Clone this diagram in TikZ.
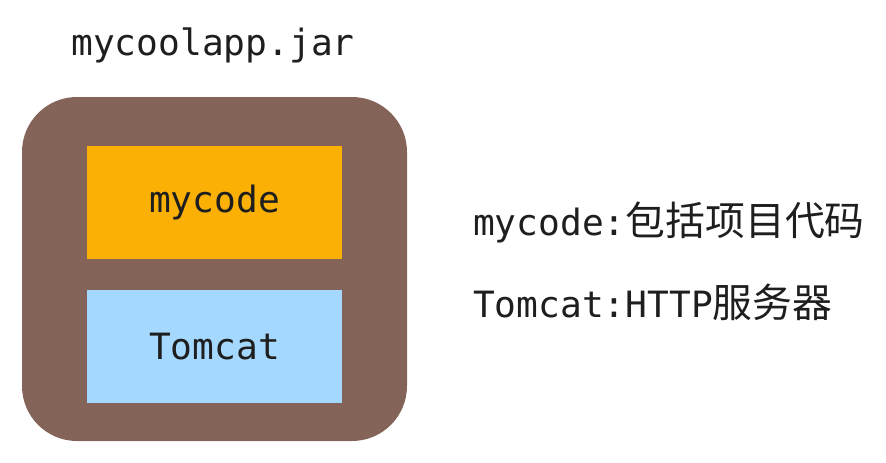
\documentclass[tikz,border=0pt]{standalone}
\usepackage{fontspec}
\setmonofont{DejaVu Sans Mono}
\newfontfamily\cjk[Scale=1.1]{Noto Sans CJK SC}
\usetikzlibrary{positioning}
\definecolor{jarbrown}{HTML}{846358}
\definecolor{codeorange}{HTML}{FAB005}
\definecolor{catblue}{HTML}{A5D8FF}
\definecolor{ink}{HTML}{1E1E1E}
\tikzset{%
   txt/.style={inner sep=0pt, text=ink, font=\ttfamily\fontsize{36.2}{40}\selectfont},
   part/.style={txt, minimum width=255pt, minimum height=113pt},
}

\begin{document}
\begin{tikzpicture}[x=1pt, y=-1pt]
         \useasboundingbox (0,0) rectangle (886,463);
         \node[fill=jarbrown, rounded corners=55pt, minimum width=385pt, minimum height=344pt, inner sep=0pt] (jar) at (214.5,269) {};
         \node[txt, anchor=base] (title) at (213,55) {mycoolapp.jar};
         \node[part, fill=codeorange] (code) at (214.5,202.5) {mycode};
         \node[part, fill=catblue, below=31pt of code] (cat) {Tomcat};
         \node[txt, anchor=base west] (codeinfo) at (473,235) {mycode:{\cjk 包括项目代码}};
         \node[txt, anchor=base west] (catinfo) at (473,317) {Tomcat:HTTP{\cjk 服务器}};
      \end{tikzpicture}
\end{document}
